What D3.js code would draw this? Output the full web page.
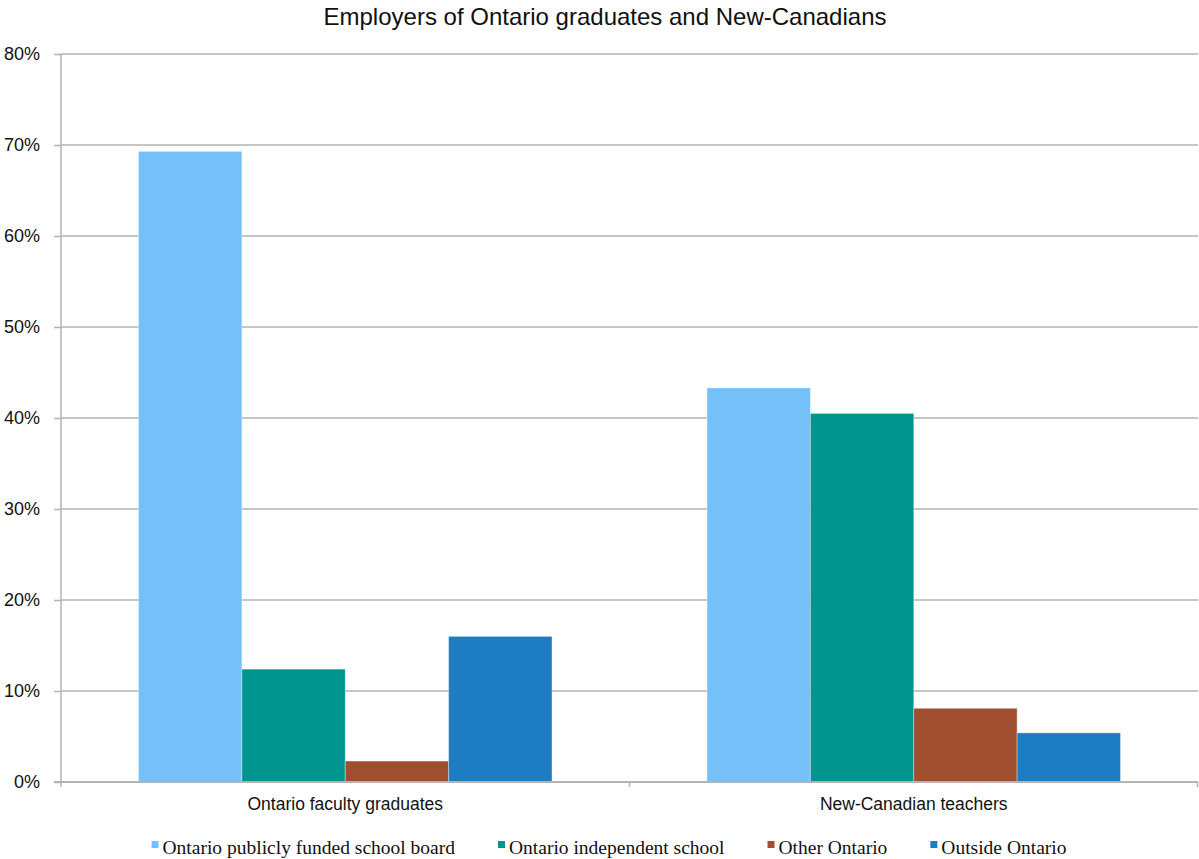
<!DOCTYPE html>
<html>
<head>
<meta charset="utf-8">
<script src="https://cdn.jsdelivr.net/npm/d3@7/dist/d3.min.js"></script>
<style>
  html, body { margin: 0; padding: 0; background: #fff; }
  svg { display: block; }
</style>
</head>
<body>
<svg id="chart" width="1199" height="859"></svg>
<script>
// Chart data
const categories = ["Ontario faculty graduates", "New-Canadian teachers"];
const seriesNames = [
  "Ontario publicly funded school board",
  "Ontario independent school",
  "Other Ontario",
  "Outside Ontario"
];
const seriesColors = ["#76c0fa", "#00948f", "#a04e30", "#1e7dc2"];
// Percent values per series, in category order
const publiclyFunded = [69.3, 43.3];
const independent = [12.4, 40.5];
const otherOntario = [2.3, 8.1];
const outsideOntario = [16.0, 5.4];
const yTicks = [0, 10, 20, 30, 40, 50, 60, 70, 80];

const seriesValues = [publiclyFunded, independent, otherOntario, outsideOntario];

const svg = d3.select("#chart");
const W = 1199, H = 859;
const margin = { left: 61, right: 1, top: 54, bottom: 77 };
const plotW = W - margin.left - margin.right;
const plotH = H - margin.top - margin.bottom;
const gridColor = "#b3b3b3";
const sans = "'Liberation Sans', Arial, Helvetica, sans-serif";
const serif = "'Liberation Serif', 'Times New Roman', serif";

const g = svg.append("g").attr("transform", `translate(${margin.left},${margin.top})`);

const x0 = d3.scaleBand().domain(categories).range([0, plotW]).paddingInner(0).paddingOuter(0);
const x1 = d3.scaleBand().domain(d3.range(seriesNames.length))
  .range([0, x0.bandwidth()]).paddingOuter(0.75).paddingInner(0);
const y = d3.scaleLinear().domain([0, 80]).range([plotH, 0]);

// Horizontal gridlines
g.append("g").selectAll("line").data(yTicks.filter(d => d > 0)).join("line")
  .attr("x1", 0).attr("x2", plotW)
  .attr("y1", d => y(d)).attr("y2", d => y(d))
  .attr("stroke", gridColor).attr("stroke-width", 1.5);

// Bars
const groups = g.append("g").selectAll("g").data(categories).join("g")
  .attr("transform", c => `translate(${x0(c)},0)`);
groups.selectAll("rect")
  .data((c, ci) => seriesValues.map((vals, si) => ({ si, v: vals[ci] })))
  .join("rect")
  .attr("x", d => x1(d.si))
  .attr("width", x1.bandwidth())
  .attr("y", d => y(d.v))
  .attr("height", d => y(0) - y(d.v))
  .attr("fill", d => seriesColors[d.si])
  .attr("stroke", "#ffffff").attr("stroke-opacity", 0.35).attr("stroke-width", 1);

// Y axis
const yAxis = g.append("g").call(
  d3.axisLeft(y).tickValues(yTicks).tickFormat(d => d + "%").tickSize(7).tickPadding(14)
);
yAxis.select(".domain").attr("stroke", gridColor).attr("stroke-width", 1.5)
  .attr("d", `M0,${plotH + 5}V0`);
yAxis.selectAll(".tick line").attr("stroke", gridColor).attr("stroke-width", 1.5);
yAxis.selectAll(".tick text").attr("font-family", sans).attr("font-size", 18).attr("fill", "#111");

// X axis with ticks at category boundaries
const xAxis = g.append("g").attr("transform", `translate(0,${plotH})`);
xAxis.append("line").attr("x1", -7).attr("x2", plotW).attr("y1", 0).attr("y2", 0)
  .attr("stroke", gridColor).attr("stroke-width", 2);
xAxis.selectAll("line.sep").data(categories.slice(1).concat(["end"])).join("line")
  .attr("class", "sep")
  .attr("x1", (c, i) => i < categories.length - 1 ? x0(c) : plotW - 0.5)
  .attr("x2", (c, i) => i < categories.length - 1 ? x0(c) : plotW - 0.5)
  .attr("y1", 0).attr("y2", 5)
  .attr("stroke", gridColor).attr("stroke-width", 1.5);
xAxis.selectAll("text").data(categories).join("text")
  .attr("x", c => x0(c) + x0.bandwidth() / 2)
  .attr("y", 28)
  .attr("text-anchor", "middle")
  .attr("font-family", sans).attr("font-size", 17.5).attr("fill", "#111")
  .text(c => c);

// Title
svg.append("text").attr("x", 605).attr("y", 25).attr("text-anchor", "middle")
  .attr("font-family", sans).attr("font-size", 24).attr("fill", "#111")
  .text("Employers of Ontario graduates and New-Canadians");

// Legend
const legendGap = 43;
const legend = svg.append("g");
const items = legend.selectAll("g").data(seriesNames).join("g");
items.append("rect").attr("width", 7).attr("height", 7).attr("y", -13)
  .attr("fill", (d, i) => seriesColors[i]);
items.append("text").attr("x", 11).attr("y", 0)
  .attr("font-family", serif).attr("font-size", 19.5).attr("fill", "#111")
  .text(d => d);
let cursor = 0;
items.each(function () {
  const item = d3.select(this);
  item.attr("transform", `translate(${cursor},0)`);
  cursor += 11 + item.select("text").node().getComputedTextLength() + legendGap;
});
const legendWidth = cursor - legendGap;
legend.attr("transform", `translate(${609 - legendWidth / 2},854)`);
</script>
</body>
</html>
